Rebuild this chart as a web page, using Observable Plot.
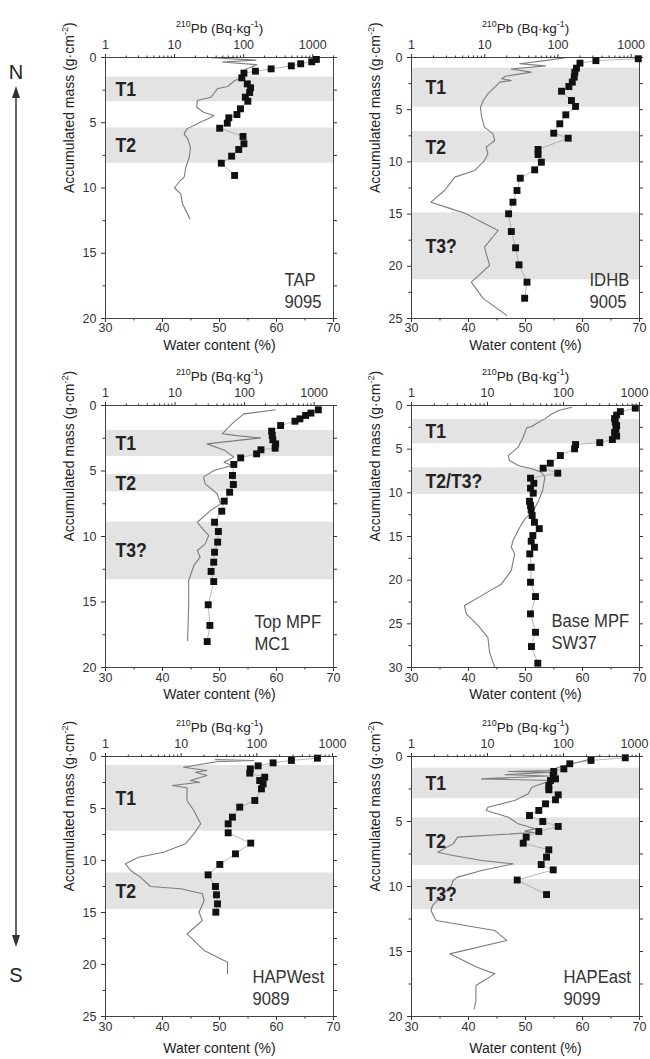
<!DOCTYPE html>
<html><head><meta charset="utf-8">
<script src="https://cdn.jsdelivr.net/npm/d3@7"></script>
<script src="https://cdn.jsdelivr.net/npm/@observablehq/plot@0.6"></script>
<style>
html,body{margin:0;padding:0;background:#fff;}
#fig{position:relative;width:650px;height:1059px;overflow:hidden;background:#fff;font-family:"Liberation Sans",Arial,"DejaVu Sans",sans-serif;}
</style></head><body><div id="fig"></div>
<script>
// ---------- DATA: [accumulated mass (g/cm2), value] ----------
// TAP 9095
const tapWater = [[0.02,48.7],[0.2,56.4],[0.35,50.5],[0.55,56.6],[0.75,55.5],[1.0,54.1],[1.46,54.4],[1.76,52.7],[2.22,51.4],[2.40,49.6],[2.78,49.0],[3.04,48.5],[3.30,46.1],[3.81,46.0],[4.19,47.2],[4.44,49.0],[4.70,48.0],[4.96,46.6],[5.47,44.3],[5.85,43.8],[6.23,44.4],[6.87,44.9],[7.64,44.7],[8.41,44.1],[9.17,43.8],[9.5,43.0],[9.98,42.1],[10.45,43.2],[11.2,43.5],[12.36,44.8]];
const tapPb = [[0.15,1130],[0.33,968],[0.48,670],[0.64,490],[0.87,250],[1.05,148],[1.20,101],[1.56,94],[2.02,113],[2.32,126],[2.68,122],[3.04,106],[3.35,115],[3.93,90],[4.37,80],[4.62,61],[5.03,58],[5.42,45],[6.05,98],[6.61,101],[7.05,85],[7.56,67],[8.10,47.5],[9.04,74]];
const tapBands = [{y1:1.5,y2:3.4,label:"T1"},{y1:5.4,y2:8.1,label:"T2"}];
const tapName = ["TAP","9095"];

// IDHB 9005
const idhbWater = [[0.03,57],[0.3,53.4],[0.6,49],[0.8,53.5],[1.1,47.5],[1.4,51],[1.8,46.5],[2.04,45.8],[2.2,47.5],[2.36,45.5],[2.84,44.6],[3.48,43.4],[4.12,42.6],[4.76,42.1],[5.72,42.3],[6.67,42.8],[7.31,44.3],[7.95,44.6],[8.59,43.1],[9.23,43.4],[9.87,42.8],[10.82,41.1],[11.46,37.6],[12.74,35.8],[13.86,33.4],[14.5,37],[14.97,39.6],[15.6,41.7],[16.57,45.2],[18.17,42.8],[19.92,43.7],[21.52,40.5],[23.1,42.6],[24.7,46.7]];
const idhbPb = [[0.12,1250],[0.3,330],[0.54,200],[1.02,179],[1.41,170],[1.88,167],[2.36,157],[2.78,141],[3.23,112],[4.12,153],[4.69,174],[5.49,128],[6.35,106],[7.25,87.6],[7.73,138],[8.81,53.5],[9.29,53.5],[10.03,59.4],[10.76,48.1],[11.56,30.6],[12.74,27.6],[13.86,24.3],[14.97,21.2],[16.67,23.1],[18.23,26.4],[19.86,29.4],[21.52,37.8],[23.06,35.1]];
const idhbBands = [{y1:1.02,y2:4.76,label:"T1"},{y1:7.09,y2:10.09,label:"T2"},{y1:14.88,y2:21.3,label:"T3?"}];
const idhbName = ["IDHB","9005"];

// Top MPF MC1
const mc1Water = [[0.33,59.8],[0.64,54.3],[1.27,52.5],[1.78,51.3],[2.16,50.5],[2.3,53],[2.47,57.2],[2.93,47.8],[3.44,51],[3.94,52.5],[4.33,50.8],[4.58,52.2],[4.96,49],[5.47,47.2],[5.98,47.5],[6.74,49.6],[7.51,50.2],[8.02,48.4],[8.91,46.1],[9.29,46.8],[9.92,48.1],[10.56,47.5],[11.07,46.1],[11.58,46.6],[12.21,45.5],[13.36,44.6],[15.14,44.6],[17.94,44.4]];
const mc1Pb = [[0.33,1150],[0.58,900],[0.76,755],[1.02,625],[1.2,530],[1.53,330],[1.96,245],[2.29,250],[2.62,255],[2.93,280],[3.26,275],[3.38,172],[3.69,149],[4.0,88],[4.5,70],[5.34,67],[6.03,69],[6.62,61],[7.3,51],[8.07,47],[8.91,37],[9.62,42],[10.43,41],[11.2,37],[11.96,36],[12.67,33],[13.44,36],[15.21,30],[16.79,31.7],[18.02,29]];
const mc1Bands = [{y1:1.91,y2:3.89,label:"T1"},{y1:5.27,y2:6.59,label:"T2"},{y1:8.9,y2:13.31,label:"T3?"}];
const mc1Name = ["Top MPF","MC1"];

// Base MPF SW37
const sw37Water = [[0.2,58.1],[0.57,55.8],[1.0,54.5],[1.53,53.4],[1.91,52.3],[2.41,51.1],[2.56,50.2],[3.63,49.6],[4.77,48.7],[5.73,47.0],[6.3,47.2],[6.87,48.7],[7.25,51.1],[7.64,52.8],[8.21,53.4],[9.74,53.0],[10.88,52.3],[12.03,51.4],[12.98,49.9],[13.94,49.0],[15.46,47.8],[16.23,47.5],[17.0,48.1],[18.9,47.5],[20.43,45.8],[21.77,42.3],[22.91,39.3],[23.87,39.6],[25.2,41.7],[26.54,43.4],[28.26,43.7],[29.98,44.6]];
const sw37Pb = [[0.3,880],[0.7,560],[1.1,500],[1.5,470],[1.9,480],[2.3,500],[2.7,490],[3.1,470],[3.5,500],[3.9,440],[4.25,300],[4.47,144],[4.96,140],[5.73,91],[6.61,67],[7.18,54],[7.75,84],[8.32,36.8],[8.9,40.7],[9.47,36.8],[10.04,40],[10.96,35.7],[11.45,36.8],[11.95,37.5],[12.6,38.7],[13.37,41.5],[14.1,48],[14.89,39.5],[15.54,37.6],[16.23,41.5],[16.99,36],[18.52,37.6],[20.24,36.8],[21.88,42.8],[23.86,36.8],[25.97,42.8],[27.6,37.9],[29.51,45.9]];
const sw37Bands = [{y1:1.6,y2:4.39,label:"T1"},{y1:7.14,y2:10.2,label:"T2/T3?"}];
const sw37Name = ["Base MPF","SW37"];

// HAPWest 9089
const hapwWater = [[0.3,49.3],[0.38,56],[0.5,49.5],[1.03,43.7],[1.35,47.8],[1.51,45.8],[1.83,47.8],[2.31,44.9],[2.47,46.5],[2.79,41.7],[3.01,44.3],[4.23,44.3],[5.19,45.5],[6.47,46.7],[7.44,45.5],[8.4,44.0],[9.2,40.2],[9.68,35.8],[10.32,33.5],[10.96,34.4],[11.6,36.1],[12.5,37.9],[12.72,43.2],[13.2,47.0],[13.85,47.3],[14.97,46.4],[15.77,47.0],[17.05,44.3],[18.65,47.3],[19.78,51.4],[20.9,51.4]];
const hapwPb = [[0.16,631],[0.38,286],[0.61,164],[0.9,104],[1.19,82],[1.6,80.6],[1.99,127],[2.31,109],[2.63,121],[3.11,115],[4.23,94],[4.87,59.4],[5.83,47.6],[6.47,41.8],[7.34,41.8],[8.33,83],[9.36,52.2],[10.38,32.4],[11.38,22.7],[12.5,28.4],[13.3,29.3],[14.17,30.2],[14.97,28.7]];
const hapwBands = [{y1:0.87,y2:7.18,label:"T1"},{y1:11.2,y2:14.7,label:"T2"}];
const hapwName = ["HAPWest","9089"];

// HAPEast 9099
const hapeWater = [[0.18,61.7],[0.69,56.9],[1.08,54.0],[1.15,47],[1.2,54.5],[1.4,46.4],[1.5,54],[1.72,42.3],[1.85,54.5],[2.36,51.1],[2.87,50.5],[3.38,48.1],[3.9,43.4],[4.15,43.1],[4.67,47.0],[5.18,48.7],[5.56,51.7],[5.74,49.9],[5.85,51.5],[6.2,38.1],[6.72,37.3],[7.36,34.6],[7.62,37.3],[8.0,42.3],[8.26,47.8],[8.77,42.3],[9.28,38.1],[9.54,37.3],[9.92,37.0],[11.46,33.7],[11.85,33.4],[12.62,34.3],[13.38,44.6],[14.15,46.7],[15.18,36.7],[16.2,41.4],[16.72,44.6],[17.62,41.3],[18.77,41.3],[19.41,41.0]];
const hapePb = [[0.1,650],[0.3,230],[0.56,121],[0.95,101],[1.15,74.5],[1.46,73],[1.72,78.5],[1.85,67.4],[2.23,64.1],[2.56,64.1],[2.95,85.2],[3.33,78.5],[3.64,58],[4.15,47.3],[4.54,35.7],[5.0,53.4],[5.38,85.2],[5.77,47.3],[6.2,32.3],[6.67,29.5],[7.18,64.1],[7.74,59.8],[8.31,50.9],[8.72,73.2],[9.5,24.6],[10.62,59.8]];
const hapeBands = [{y1:0.9,y2:3.25,label:"T1"},{y1:4.72,y2:8.38,label:"T2"},{y1:9.46,y2:11.79,label:"T3?"}];
const hapeName = ["HAPEast","9099"];

// axis texts and ticks
const X_TITLE = "Water content (%)";
const PB_TITLE = "²¹⁰Pb (Bq·kg⁻¹)";
const Y_TITLE = "Accumulated mass (g·cm⁻²)";
const wcMajor = [30,40,50,60,70];
const wcMinor = [35,45,55,65];
const pbDecades = [1,10,100,1000];

// ---------- LAYOUT ----------
const FONT = '"Liberation Sans", Arial, "DejaVu Sans", sans-serif';
const MT = 57;
const cols = [{left:0,width:345,mL:105,mR:12,bandDx:10},{left:345,width:305,mL:66,mR:11,bandDx:14}];
const rows = [
  {top:0,frameH:261,mB:30,titleDy:31,tickPad:1},
  {top:348,frameH:262,mB:30,titleDy:31,tickPad:2},
  {top:699,frameH:260,mB:43,titleDy:36,tickPad:2}
];
const panels = [
  {row:0,col:0,yMax:20,pbMax:2000,water:tapWater,pb:tapPb,bands:tapBands,name:tapName,nameDx:179,nameDy:[-33,-11]},
  {row:0,col:1,yMax:25,pbMax:1300,water:idhbWater,pb:idhbPb,bands:idhbBands,name:idhbName,nameDx:178,nameDy:[-33,-11]},
  {row:1,col:0,yMax:20,pbMax:1900,water:mc1Water,pb:mc1Pb,bands:mc1Bands,name:mc1Name,nameDx:149,nameDy:[-40,-18]},
  {row:1,col:1,yMax:30,pbMax:1000,water:sw37Water,pb:sw37Pb,bands:sw37Bands,name:sw37Name,nameDx:140,nameDy:[-41,-19]},
  {row:2,col:0,yMax:25,pbMax:1030,water:hapwWater,pb:hapwPb,bands:hapwBands,name:hapwName,nameDx:147,nameDy:[-34,-12]},
  {row:2,col:1,yMax:20,pbMax:1000,water:hapeWater,pb:hapePb,bands:hapeBands,name:hapeName,nameDx:152,nameDy:[-34,-12]}
];

function steps(max, s) { const o = []; for (let i = 0; i * s <= max + 1e-9; i++) o.push(i * s); return o; }
function logMinor(max) { const o = []; for (const d of [1,10,100,1000]) for (let k = 2; k <= 9; k++) if (k*d <= max) o.push(k*d); return o; }

const fig = document.getElementById("fig");
const bandLabelSet = new Set();
const nameSet = new Set();

function supify(svg) {
  svg.querySelectorAll("text").forEach(t => {
    const s = t.textContent;
    let parts = null, fs = 14;
    if (s === PB_TITLE) { parts = [["210",1],["Pb (Bq·kg",0],["-1",1],[")",0]]; fs = 13.5; }
    else if (s === Y_TITLE) { parts = [["Accumulated mass (g·cm",0],["-2",1],[")",0]]; fs = 14; }
    if (!parts) return;
    t.textContent = "";
    let prevSup = false;
    for (const [str, sup] of parts) {
      const ts = document.createElementNS("http://www.w3.org/2000/svg", "tspan");
      ts.textContent = str;
      if (sup) { ts.setAttribute("font-size", (fs*0.66).toFixed(1)); ts.setAttribute("dy", (-fs*0.42).toFixed(1)); }
      else if (prevSup) ts.setAttribute("dy", (fs*0.42).toFixed(1));
      prevSup = !!sup;
      t.appendChild(ts);
    }
  });
}
function squeeze(svg) {
  svg.querySelectorAll("text").forEach(t => {
    const s = t.textContent;
    let sx = null;
    if (bandLabelSet.has(s)) sx = 0.88;
    else if (nameSet.has(s)) sx = 0.9;
    if (sx) t.setAttribute("transform", (t.getAttribute("transform") || "") + ` scale(${sx},1)`);
  });
}

for (const p of panels) {
  const c = cols[p.col], r = rows[p.row];
  const height = MT + r.frameH + r.mB;
  p.bands.forEach(b => bandLabelSet.add(b.label));
  p.name.forEach(n => nameSet.add(n));
  const dims = {width:c.width, height, marginTop:MT, marginBottom:r.mB, marginLeft:c.mL, marginRight:c.mR};
  const style = {position:"absolute", left:c.left+"px", top:r.top+"px", background:"transparent", overflow:"visible", fontFamily:FONT};
  const yMajor = steps(p.yMax, 5), yMinor = steps(p.yMax, 2.5).filter(v => v % 5 !== 0), yAll = steps(p.yMax, 2.5);
  const nameOpts = {text:d=>d, frameAnchor:"bottom-left", dx:p.nameDx, textAnchor:"start", fontSize:18.5, fill:"#333"};

  const base = Plot.plot({
    ...dims, style,
    x: {domain:[30,70]},
    y: {domain:[0,p.yMax], reverse:true},
    marks: [
      Plot.rect(p.bands, {y1:"y1", y2:"y2", fill:"#e3e3e3"}),
      Plot.line(p.water, {x:d=>d[1], y:d=>d[0], stroke:"#7c7c7c", strokeWidth:1.1}),
      Plot.text(p.bands, {y:d=>(d.y1+d.y2)/2, text:"label", frameAnchor:"left", dx:c.bandDx, textAnchor:"start", fontSize:20, fontWeight:"bold", fill:"#222"}),
      Plot.axisY(yMajor, {anchor:"left", tickSize:4, tickPadding:5, fontSize:12.5, label:null, color:"#333"}),
      Plot.axisY(yMinor, {anchor:"left", tickSize:2.5, tickFormat:()=>"", label:null, color:"#333"}),
      Plot.axisY(yAll, {anchor:"right", tickSize:3, tickFormat:()=>"", label:null, color:"#333"}),
      Plot.axisX(wcMajor, {anchor:"bottom", tickSize:4, tickPadding:r.tickPad, fontSize:12.5, label:null, color:"#333"}),
      Plot.axisX(wcMinor, {anchor:"bottom", tickSize:2.5, tickFormat:()=>"", label:null, color:"#333"}),
      Plot.frame({stroke:"#444"}),
      Plot.text([Y_TITLE], {text:d=>d, frameAnchor:"left", dx:-36, dy:5, rotate:-90, fontSize:14, fill:"#222"}),
      Plot.text([X_TITLE], {text:d=>d, frameAnchor:"bottom", dy:r.titleDy, fontSize:14, fill:"#222"}),
      Plot.text([p.name[0]], {...nameOpts, dy:p.nameDy[0]}),
      Plot.text([p.name[1]], {...nameOpts, dy:p.nameDy[1]})
    ]
  });

  // decade labels; a label sitting at the right frame edge is nudged inwards to stay on the page
  const decs = pbDecades.filter(v => v <= p.pbMax * 1.001);
  const edgeDec = decs.filter(v => p.col === 1 && v >= p.pbMax * 0.95);
  const innerDec = decs.filter(v => !edgeDec.includes(v));
  const decOpts = {anchor:"top", tickSize:4, tickPadding:5, fontSize:12.5, tickFormat:d=>String(d), label:null, color:"#333"};
  const top = Plot.plot({
    ...dims, style,
    x: {type:"log", domain:[1,p.pbMax]},
    y: {domain:[0,p.yMax], reverse:true, axis:null},
    marks: [
      Plot.line(p.pb, {x:d=>d[1], y:d=>d[0], stroke:"#9a9a9a", strokeWidth:0.7}),
      Plot.dot(p.pb, {x:d=>d[1], y:d=>d[0], symbol:"square", r:3.9, fill:"#111", stroke:"none"}),
      Plot.axisX(innerDec, decOpts),
      ...(edgeDec.length ? [
        Plot.axisX(edgeDec, {...decOpts, tickFormat:()=>""}),
        Plot.axisX(edgeDec, {...decOpts, tickSize:0, tickPadding:9, dx:-5})
      ] : []),
      Plot.axisX(logMinor(p.pbMax), {anchor:"top", tickSize:2.5, tickFormat:()=>"", label:null, color:"#333"}),
      Plot.text([PB_TITLE], {text:d=>d, frameAnchor:"top", dy:-34, fontSize:13.5, fill:"#222"})
    ]
  });
  for (const svg of [base, top]) { supify(svg); squeeze(svg); fig.appendChild(svg); }
}

// N / S direction arrow (decoration)
const ns = document.createElementNS("http://www.w3.org/2000/svg", "svg");
ns.setAttribute("width", "40"); ns.setAttribute("height", "1059");
ns.setAttribute("style", "position:absolute;left:0;top:0;overflow:visible");
ns.innerHTML = `
  <g font-family='${FONT.replace(/"/g, "")}' font-size="20" fill="#222" text-anchor="middle">
    <text x="16" y="79">N</text>
    <text x="16" y="982">S</text>
  </g>
  <line x1="16" y1="92" x2="16" y2="941" stroke="#333" stroke-width="1.5"/>
  <polygon points="16,86 12,98 20,98" fill="#333"/>
  <polygon points="16,947 12,935 20,935" fill="#333"/>`;
fig.appendChild(ns);
</script>
</body></html>
